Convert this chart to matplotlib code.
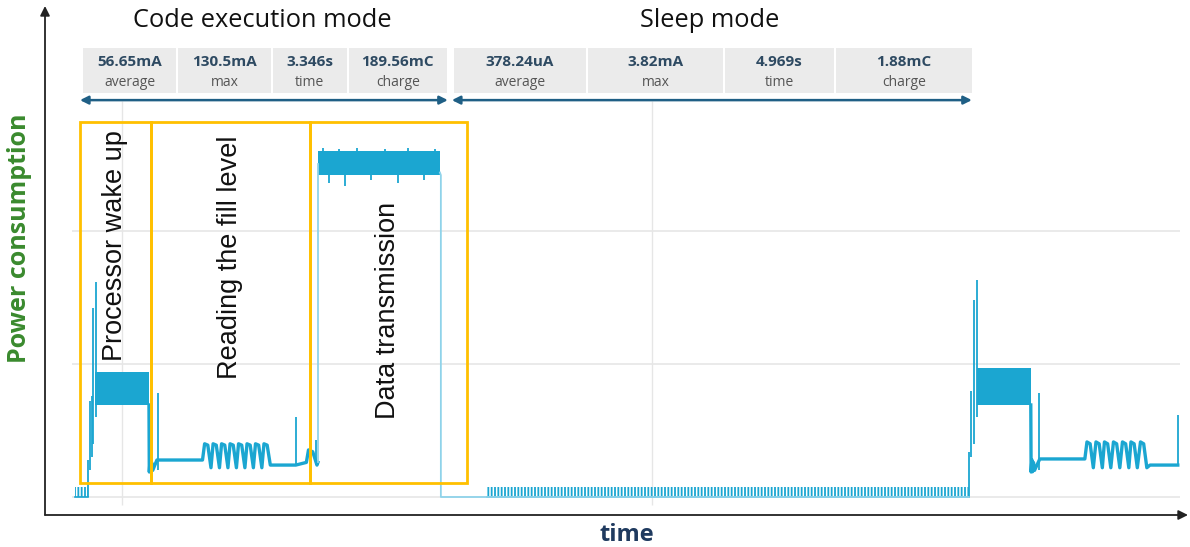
import matplotlib.pyplot as plt
from matplotlib.patches import Rectangle

# colours
TRACE = "#1ba6d1"
TRACE_LIGHT = "#8fd3ea"
BOX = "#ffc000"
GRID = "#e6e6e6"
ARROW = "#1f5f85"

# stats header (value, label, start, end in s)
code_vals = ["56.65mA", "130.5mA", "3.346s", "189.56mC"]
sleep_vals = ["378.24uA", "3.82mA", "4.969s", "1.88mC"]
stat_labels = ["average", "max", "time", "charge"]
code_cells = [0.623, 1.519, 2.415, 3.132, 4.075]
sleep_cells = [4.123, 5.387, 6.679, 7.726, 9.028]
code_span = (0.604, 4.075)
sleep_span = (4.113, 9.019)

# phase boxes (start, end) in s
phase_names = ["Processor wake up", "Reading the fill level", "Data transmission"]
phase_edges = [0.604, 1.274, 2.774, 4.255]
phase_text_y = [138, 136, 70]
phase_text_va = ["top", "top", "center"]
box_low, box_high = 5.3, 141.0

# noisy plateaus: (start, end, low, high) in mA
bands_start = [0.745, 2.85, 9.066]
bands_end = [1.255, 4.0, 9.575]
bands_low = [34.6, 121.0, 34.6]
bands_high = [47.0, 130.0, 48.5]

# sleep ripple (start, end, height)
ripple_start = [0.557, 4.44]
ripple_end = [0.679, 8.99]
ripple_high = [3.8, 3.6]

# single spikes: time, low, high
spike_t = [0.679, 0.70, 0.715, 0.726, 0.755, 1.34, 2.645, 2.83,
           8.99, 9.01, 9.04, 9.066, 9.651, 10.962,
           2.95, 3.1, 3.35, 3.6, 3.85,
           2.90, 3.05, 3.22, 3.48, 3.70, 3.95]
spike_lo = [0, 10, 15, 20, 30, 10, 12, 12,
            0, 15, 20, 30, 10, 12,
            118, 117, 119, 118, 119,
            128, 128, 128, 128, 128, 128]
spike_hi = [14, 36, 38, 71, 81, 39, 30.1, 21.4,
            17, 40, 74, 81.6, 39.1, 30.8,
            124, 124, 124, 124, 124,
            131.2, 131, 131.2, 130.8, 131.2, 131]

# reading phase, cycle 1
read1_t = [1.255, 1.258, 1.265, 1.272, 1.28, 1.29, 1.33, 1.76,
           1.78, 1.81, 1.84, 1.86, 1.89, 1.92, 1.94, 1.97, 2.00,
           2.02, 2.05, 2.08, 2.10, 2.13, 2.16, 2.18, 2.21, 2.24,
           2.26, 2.29, 2.32, 2.34, 2.37, 2.40, 2.64, 2.74, 2.76,
           2.80, 2.84, 2.849]
read1_v = [34.6, 9.4, 14, 9.5, 13, 10, 13.9, 13.9,
           20, 19.5, 11, 20, 19.5, 11, 20, 19.5, 11,
           20, 19.5, 11, 20, 19.5, 11, 20, 19.5, 11,
           20, 19.5, 11, 20, 19.5, 12, 12, 13, 17.7,
           17, 12, 13]

# reading phase, cycle 2
read2_t = [9.575, 9.578, 9.585, 9.592, 9.60, 9.61, 9.66, 10.085,
           10.105, 10.135, 10.165, 10.19, 10.22, 10.25, 10.27, 10.30,
           10.33, 10.355, 10.385, 10.415, 10.44, 10.47, 10.50, 10.52,
           10.55, 10.58, 10.61, 10.64, 10.67, 10.70, 10.962]
read2_v = [34.6, 9.4, 14, 9.5, 13, 10, 14.3, 14.3,
           20.7, 20, 11, 20.7, 20, 11, 20.7, 20,
           11, 20.7, 20, 11, 20.7, 20, 11, 20.7,
           20, 11, 20.7, 20, 11, 12, 12]

# transmission edges and sleep floor
rise_t = [2.849, 2.849]
rise_v = [13, 125]
fall_t = [4.0, 4.009, 4.009, 8.99]
fall_v = [122, 121, 0, 0]

fig = plt.figure(figsize=(11.9, 5.47), dpi=100)
ax = fig.add_axes([45 / 1190, 32 / 547, 1140 / 1190, 505 / 547])
ax.set_xlim(0.274, 11.03)
ax.set_ylim(-6.77, 183.08)
ax.axis("off")

# grid
ax.hlines([0, 50, 100], 0.528, 10.98, color=GRID, lw=1.2, zorder=0)
ax.vlines([1, 6], -3, 149, color=GRID, lw=1.0, zorder=0)

# trace
for s, e, lo, hi in zip(bands_start, bands_end, bands_low, bands_high):
    ax.fill_between([s, e], lo, hi, color=TRACE, lw=0, zorder=2)
plt.rcParams["hatch.linewidth"] = 1.3
plt.rcParams["hatch.color"] = TRACE
for s, e, h in zip(ripple_start, ripple_end, ripple_high):
    ax.fill_between([s, e], 0, h, facecolor="none", edgecolor=TRACE,
                    hatch="|||||", lw=0, zorder=2)
    ax.plot([s, e], [0, 0], color=TRACE, lw=1.2, zorder=2)
ax.vlines(spike_t, spike_lo, spike_hi, color=TRACE, lw=1.3, zorder=2)
ax.plot(read1_t, read1_v, color=TRACE, lw=2.4, zorder=2)
ax.plot(read2_t, read2_v, color=TRACE, lw=2.4, zorder=2)
ax.plot(rise_t, rise_v, color=TRACE_LIGHT, lw=1.3, zorder=2)
ax.plot(fall_t, fall_v, color=TRACE_LIGHT, lw=1.3, zorder=2)

# phase boxes
for i, name in enumerate(phase_names):
    s, e = phase_edges[i], phase_edges[i + 1]
    ax.add_patch(Rectangle((s, box_low), e - s, box_high - box_low,
                           fill=False, edgecolor=BOX, lw=2, zorder=3))
    ax.text((s + e) / 2, phase_text_y[i], name, rotation=90,
            ha="center", va=phase_text_va[i], fontsize=19.5,
            family="Liberation Sans", color="#111111", zorder=4)

# header tables
for vals, cells in [(code_vals, code_cells), (sleep_vals, sleep_cells)]:
    for i, v in enumerate(vals):
        s, e = cells[i], cells[i + 1]
        ax.add_patch(Rectangle((s + 0.01, 151.9), e - s - 0.02, 16.9,
                               facecolor="#ebebeb", edgecolor="none", zorder=1))
        ax.text((s + e) / 2, 163.5, v, ha="center", va="center", fontsize=11,
                fontweight="bold", family="Open Sans", color="#2e4a62")
        ax.text((s + e) / 2, 156.0, stat_labels[i], ha="center", va="center",
                fontsize=10, family="Open Sans", color="#555555")

for s, e in [code_span, sleep_span]:
    ax.annotate("", xy=(e, 149.2), xytext=(s, 149.2),
                arrowprops=dict(arrowstyle="<|-|>", color=ARROW, lw=1.8,
                                mutation_scale=12, shrinkA=0, shrinkB=0))

ax.text(2.32, 179.3, "Code execution mode", ha="center", va="center",
        fontsize=18.3, family="Open Sans", color="#111111")
ax.text(6.55, 179.3, "Sleep mode", ha="center", va="center",
        fontsize=18.3, family="Open Sans", color="#111111")

# axes arrows
ax.annotate("", xy=(1188 / 1190, 32 / 547), xytext=(45 / 1190, 32 / 547),
            xycoords="figure fraction", textcoords="figure fraction",
            arrowprops=dict(arrowstyle="-|>", color="#222222", lw=1.3,
                            mutation_scale=14, shrinkA=0, shrinkB=0))
ax.annotate("", xy=(45 / 1190, 1 - 6 / 547), xytext=(45 / 1190, 32 / 547),
            xycoords="figure fraction", textcoords="figure fraction",
            arrowprops=dict(arrowstyle="-|>", color="#222222", lw=1.3,
                            mutation_scale=14, shrinkA=0, shrinkB=0))

fig.text(20 / 1190, 1 - 238 / 547, "Power consumption", rotation=90,
         ha="center", va="center", fontsize=18, fontweight="bold",
         family="Open Sans", color="#3a8a2e")
fig.text(627 / 1190, 1 - 535 / 547, "time", ha="center", va="center",
         fontsize=17, fontweight="bold", family="Open Sans", color="#1f3a5f")

fig.savefig("out.png", dpi=100)
